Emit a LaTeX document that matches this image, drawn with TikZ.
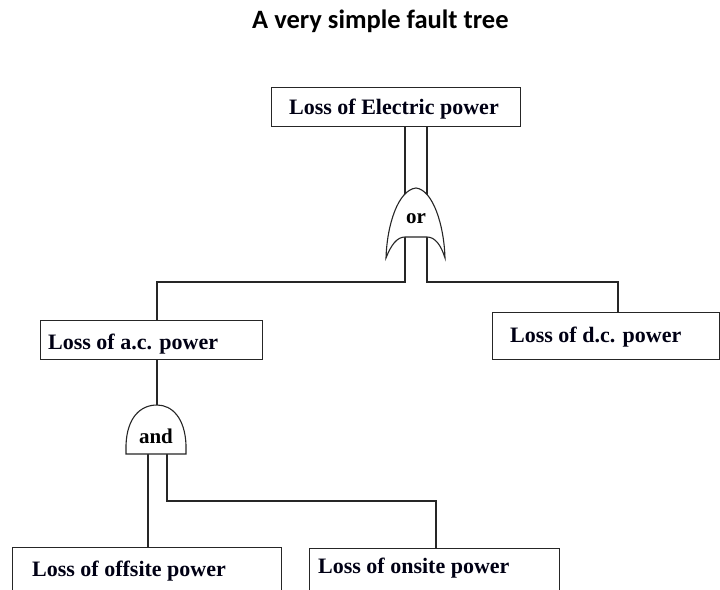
\documentclass[tikz,border=0pt]{standalone}
\usepackage{fontspec}
\newfontfamily\titlefont{Carlito}
\newfontfamily\treefont{Liberation Serif}
\begin{document}
\begin{tikzpicture}[x=1pt,y=-1pt,
  wire/.style={line width=1.3pt, draw=black!85},
  eventbox/.style={draw=black!85, line width=1.3pt, fill=white, rectangle,
    inner sep=0pt, anchor=north west},
  boxlabel/.style={font=\treefont\bfseries\fontsize{22}{22}\selectfont,
    anchor=base west, inner sep=0pt, text=black!92!blue},
  gatebody/.style={draw=black!85, line width=1.1pt, fill=white},
  gatelabel/.style={font=\treefont\bfseries\fontsize{21}{21}\selectfont,
    inner sep=0pt, text=black}]
\useasboundingbox (0,0) rectangle (720,589);
\clip (0,0) rectangle (720,589);

% title
\node[font=\titlefont\bfseries\fontsize{26.5}{26.5}\selectfont, anchor=base west,
  inner sep=0pt] (title) at (252,28) {A very simple fault tree};

% event boxes
\node[eventbox, minimum width=249pt, minimum height=39pt] (top) at (271,87) {};
\node[eventbox, minimum width=222pt, minimum height=39pt] (ac) at (40,320) {};
\node[eventbox, minimum width=227pt, minimum height=47pt] (dc) at (492,312) {};
\node[eventbox, minimum width=269pt, minimum height=60pt] (offsite) at (12,547) {};
\node[eventbox, minimum width=250pt, minimum height=60pt] (onsite) at (309,548) {};

% gate pins and wire bends
\coordinate (orL) at (405,237);
\coordinate (orR) at (427,237);
\coordinate (acBend) at (157,282);
\coordinate (dcBend) at (618,282);
\coordinate (andIn) at (157,405);
\coordinate (andL) at (148,454);
\coordinate (andR) at (167,454);
\coordinate (onBend) at (436,501);

% wires
\draw[wire] (top.south -| orL) -- (orL |- acBend) -- (acBend) -- (acBend |- ac.north);
\draw[wire] (top.south -| orR) -- (orR |- dcBend) -- (dcBend) -- (dcBend |- dc.north);
\draw[wire] (ac.south -| andIn) -- (andIn);
\draw[wire] (andL) -- (andL |- offsite.north);
\draw[wire] (andR) -- (andR |- onBend) -- (onBend) -- (onBend |- onsite.north);

% OR gate
\draw[gatebody] (416,188) .. controls (398,190) and (387,225) .. (386,258)
  .. controls (391,245) and (397,237) .. (orL) -- (orR)
  .. controls (435,237) and (441,245) .. (445,258)
  .. controls (444,225) and (433,190) .. (416,188) -- cycle;
\node[gatelabel] (orlabel) at (416,219) {or};

% AND gate
\draw[gatebody] (126,454) -- (126,445) .. controls (127,418) and (140,405) .. (andIn)
  .. controls (172,405) and (185,418) .. (186,445) -- (186,454) -- cycle;
\node[gatelabel] (andlabel) at (156,436) {and};

% event labels
\node[boxlabel] (toplabel) at (289,114) {Loss of Electric power};
\node[boxlabel] (aclabel) at (48,349) {Loss of a.c. power};
\node[boxlabel] (dclabel) at (510,342) {Loss of d.c. power};
\node[boxlabel] (offlabel) at (32,576) {Loss of offsite power};
\node[boxlabel] (onlabel) at (318,573) {Loss of onsite power};
\end{tikzpicture}
\end{document}
